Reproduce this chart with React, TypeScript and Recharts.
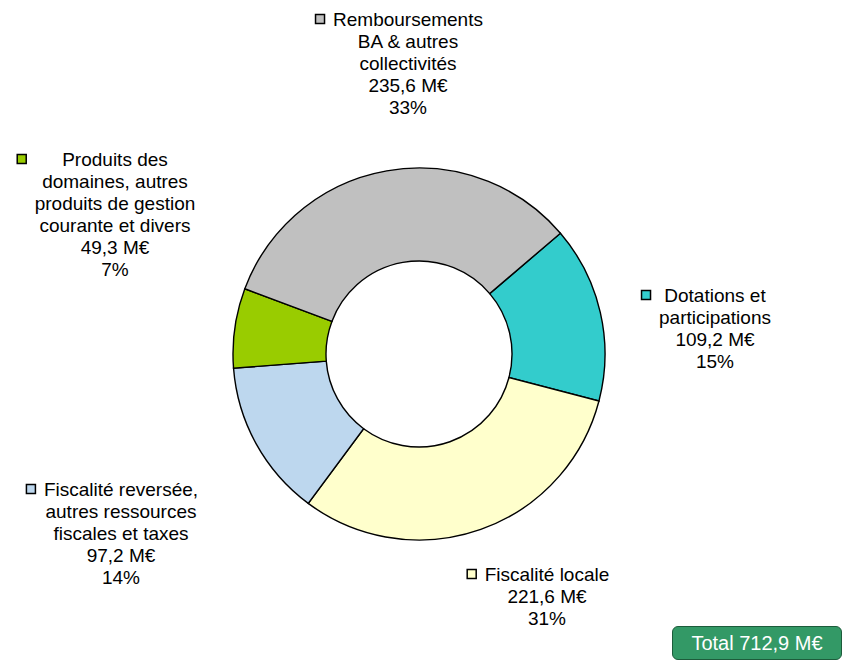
import { PieChart, Pie, Cell } from "recharts";

const categories = [
  "Dotations et\nparticipations",
  "Fiscalité locale",
  "Fiscalité reversée,\nautres ressources\nfiscales et taxes",
  "Produits des\ndomaines, autres\nproduits de gestion\ncourante et divers",
  "Remboursements\nBA & autres\ncollectivités",
];
const values = [109.2, 221.6, 97.2, 49.3, 235.6];
const totalLabel = "Total 712,9 M€";

const colors = ["#33cccc", "#ffffcc", "#bdd7ee", "#99cc00", "#c0c0c0"];
// where each label block is centred (x) and its first baseline (y)
const labelAnchors = [
  { x: 715, y: 302 },
  { x: 547, y: 581 },
  { x: 121, y: 496 },
  { x: 115, y: 166 },
  { x: 408, y: 26 },
];

const FONT = "19px 'Liberation Sans', Arial, sans-serif";
const data = categories.map((name, i) => ({ name, value: values[i] }));

let ctx: CanvasRenderingContext2D | null = null;
function measure(s: string) {
  if (!ctx) {
    ctx = document.createElement("canvas").getContext("2d");
  }
  if (!ctx) return s.length * 9;
  ctx.font = FONT;
  return ctx.measureText(s).width;
}

const fmt = (v: number) => v.toFixed(1).replace(".", ",");

function renderLabel(props: any) {
  const { index, value, percent } = props;
  const a = labelAnchors[index];
  const lines = [
    ...categories[index].split("\n"),
    `${fmt(value)} M€`,
    `${Math.round(percent * 100)}%`,
  ];
  const maxW = Math.max(...lines.map(measure));
  const left = a.x - maxW / 2;
  return (
    <g key={`lbl-${index}`}>
      <rect
        x={left - 17.5}
        y={a.y - 11.5}
        width={9}
        height={9}
        fill={colors[index]}
        stroke="#000"
        strokeWidth={1.5}
      />
      <text textAnchor="middle" fill="#000" style={{ font: FONT }}>
        {lines.map((l, i) => (
          <tspan key={i} x={a.x} y={a.y + i * 22}>
            {l}
          </tspan>
        ))}
      </text>
    </g>
  );
}

export default function App() {
  return (
    <div
      style={{
        position: "absolute",
        left: 0,
        top: 0,
        width: 845,
        height: 661,
        background: "#fff",
        fontFamily: "'Liberation Sans', Arial, sans-serif",
      }}
    >
      <PieChart width={845} height={661} margin={{ top: 0, right: 0, bottom: 0, left: 0 }}>
        <Pie
          data={data}
          dataKey="value"
          nameKey="name"
          cx={419}
          cy={354}
          innerRadius={93}
          outerRadius={186}
          startAngle={40.5}
          endAngle={-319.5}
          stroke="#000"
          strokeWidth={1.4}
          label={renderLabel}
          labelLine={false}
          isAnimationActive={false}
        >
          {data.map((d, i) => (
            <Cell key={d.name} fill={colors[i]} />
          ))}
        </Pie>
      </PieChart>
      <div
        style={{
          position: "absolute",
          left: 672,
          top: 626,
          width: 170,
          height: 34,
          boxSizing: "border-box",
          background: "#339966",
          border: "1px solid #1d5c3b",
          borderRadius: 6,
          color: "#fff",
          font: "20px 'Liberation Sans', Arial, sans-serif",
          display: "flex",
          alignItems: "center",
          justifyContent: "center",
        }}
      >
        {totalLabel}
      </div>
    </div>
  );
}
